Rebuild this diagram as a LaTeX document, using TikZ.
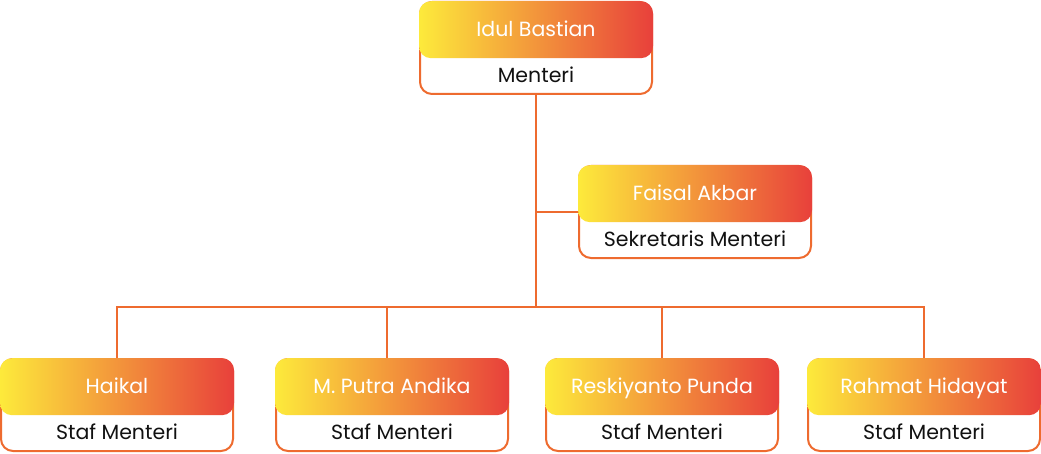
\documentclass[tikz,border=0pt]{standalone}
\usepackage{fontspec}
\setmainfont{Poppins}
\usetikzlibrary{positioning}
\definecolor{barYellow}{HTML}{FDEA3B}
\definecolor{barOrange}{HTML}{F49C40}
\definecolor{barRed}{HTML}{E8403B}
\definecolor{lineOrange}{HTML}{EE6B2F}
\definecolor{roleText}{HTML}{111111}

\begin{document}
\begin{tikzpicture}[x=1pt, y=1pt, font=\fontsize{20.5}{24}\selectfont,
card/.style={draw=lineOrange, line width=2pt, rounded corners=12pt, fill=white, minimum width=232pt, minimum height=92pt, inner sep=0pt, anchor=north},
namebar/.style={rounded corners=12pt, left color=barYellow, middle color=barOrange, right color=barRed, minimum width=234pt, minimum height=57pt, inner sep=0pt, text height=17pt, text depth=3pt, text=white, anchor=north},
role/.style={minimum width=234pt, minimum height=37pt, inner sep=0pt, text height=15pt, text depth=5pt, text=roleText},
link/.style={draw=lineOrange, line width=1.6pt}]
\useasboundingbox (0,0) rectangle (1041,453);
% top
\node[card] (idul) at (536,452) {};
\node[namebar] (idul-name) at (idul.north) {Idul Bastian};
\node[role, below=0pt of idul-name] (idul-role) {Menteri};
% secretary
\node[card] (faisal) at (695,288) {};
\node[namebar] (faisal-name) at (faisal.north) {Faisal Akbar};
\node[role, below=0pt of faisal-name] (faisal-role) {Sekretaris Menteri};
% staff row
\node[card] (haikal) at (117,95) {};
\node[namebar] (haikal-name) at (haikal.north) {Haikal};
\node[role, below=0pt of haikal-name] (haikal-role) {Staf Menteri};
\node[card] (putra) at (392,95) {};
\node[namebar] (putra-name) at (putra.north) {M. Putra Andika};
\node[role, below=0pt of putra-name] (putra-role) {Staf Menteri};
\node[card] (reskiyanto) at (662,95) {};
\node[namebar] (reskiyanto-name) at (reskiyanto.north) {Reskiyanto Punda};
\node[role, below=0pt of reskiyanto-name] (reskiyanto-role) {Staf Menteri};
\node[card] (rahmat) at (924,95) {};
\node[namebar] (rahmat-name) at (rahmat.north) {Rahmat Hidayat};
\node[role, below=0pt of rahmat-name] (rahmat-role) {Staf Menteri};
\coordinate (hub) at (536,146);
\draw[link] (idul.south) -- (hub);
\draw[link] (idul.south |- faisal.west) -- (faisal.west);
\draw[link] (haikal-name.north) |- (hub) -| (rahmat-name.north);
\draw[link] (hub) -| ([xshift=-5pt]putra-name.north);
\draw[link] (hub) -| (reskiyanto-name.north);
\end{tikzpicture}
\end{document}
